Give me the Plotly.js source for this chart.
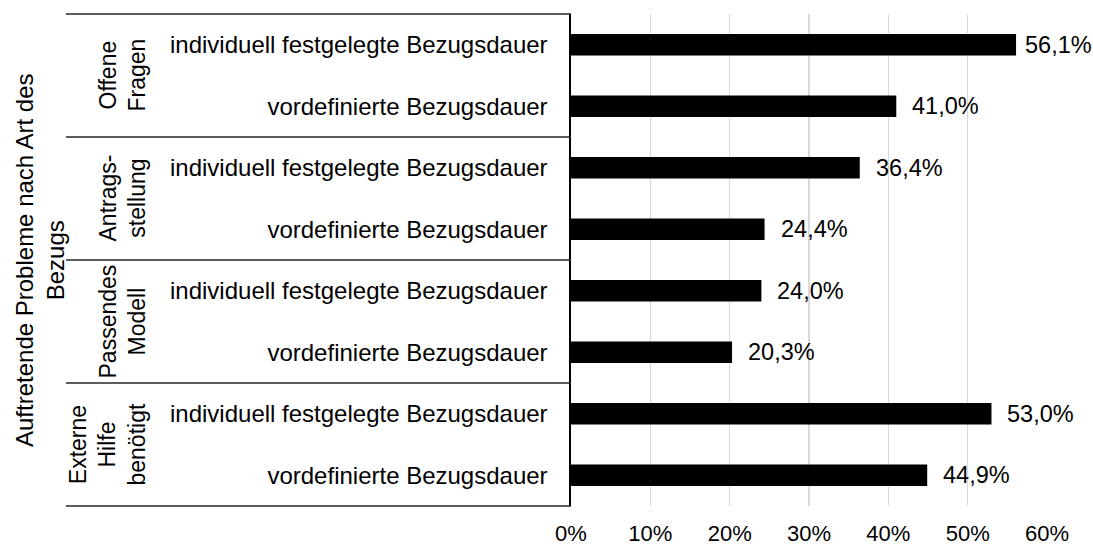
<!DOCTYPE html>
<html>
<head>
<meta charset="utf-8">
<script src="https://cdn.plot.ly/plotly-3.0.1.min.js"></script>
<style>html,body{margin:0;padding:0;background:#fff;}#chart{width:1093px;height:545px;}</style>
</head>
<body>
<div id="chart"></div>
<script>
// ---- data ----
const groups = ['Offene<br>Fragen', 'Antrags-<br>stellung', 'Passendes<br>Modell', 'Externe<br>Hilfe<br>benötigt'];
const subcats = ['individuell festgelegte Bezugsdauer', 'vordefinierte Bezugsdauer'];
const individuell = [0.561, 0.364, 0.240, 0.530];
const vordefiniert = [0.410, 0.244, 0.203, 0.449];
const axisTitle = 'Auftretende Probleme nach Art des<br>Bezugs';
const xTickVals = [0, 0.1, 0.2, 0.3, 0.4, 0.5, 0.6];

// ---- layout constants ----
const W = 1093, H = 545;
const M = {l: 571, r: 46, t: 14, b: 39};
const plotW = W - M.l - M.r;
const XMAX = 0.6;
const FONT = '"Liberation Sans", Arial, sans-serif';
const px2paper = px => (px - M.l) / plotW;

// rows
const labels = [], values = [], pos = [];
groups.forEach((g, gi) => {
  const vals = [individuell[gi], vordefiniert[gi]];
  subcats.forEach((s, si) => {
    labels.push(s);
    values.push(vals[si]);
    pos.push(gi * subcats.length + si);
  });
});
const nRows = labels.length;
const fmt = v => (v * 100).toFixed(1).replace('.', ',') + '%';

const trace = {
  type: 'bar',
  orientation: 'h',
  x: values,
  y: pos,
  width: 0.35,
  marker: {color: '#000000', line: {width: 0}},
  hoverinfo: 'skip'
};

const shapes = [];
const lineColor = '#262626';
for (let k = 0; k <= groups.length; k++) {
  const yp = 1 - (k * subcats.length) / nRows;
  shapes.push({
    type: 'line', xref: 'paper', yref: 'paper',
    x0: px2paper(66), x1: 0, y0: yp, y1: yp,
    line: {color: lineColor, width: 1.6}
  });
}

const annotations = [];
const LABEL_W = 67; // approx. width of a value label
values.forEach((v, i) => {
  const endPx = M.l + v / XMAX * plotW;
  const shift = Math.min(14, W - 3 - endPx - LABEL_W);
  annotations.push({
    x: v, y: pos[i], xref: 'x', yref: 'y',
    text: fmt(v), showarrow: false, xanchor: 'left', yanchor: 'middle',
    xshift: shift, font: {family: FONT, size: 23.5, color: '#000'}
  });
});
groups.forEach((g, gi) => {
  annotations.push({
    x: px2paper(152), y: gi * subcats.length + (subcats.length - 1) / 2,
    xref: 'paper', yref: 'y', text: g, showarrow: false,
    xanchor: 'right', yanchor: 'middle', textangle: -90, align: 'center',
    font: {family: FONT, size: 23, color: '#000'}
  });
});
annotations.push({
  x: px2paper(40), y: 0.5, xref: 'paper', yref: 'paper',
  text: axisTitle, showarrow: false, xanchor: 'center', yanchor: 'middle',
  textangle: -90, align: 'center',
  font: {family: FONT, size: 24, color: '#000'}
});

const layout = {
  width: W, height: H,
  margin: M,
  paper_bgcolor: '#fff', plot_bgcolor: '#fff',
  showlegend: false,
  font: {family: FONT, size: 22, color: '#000'},
  xaxis: {
    range: [0, XMAX], tickvals: xTickVals, tickformat: '.0%',
    showgrid: true, gridcolor: '#d9d9d9', gridwidth: 1.5,
    zeroline: false, showline: false, ticks: '',
    ticklabelstandoff: 12,
    tickfont: {family: FONT, size: 22, color: '#000'},
    fixedrange: true
  },
  yaxis: {
    range: [nRows - 0.5, -0.5],
    tickvals: pos, ticktext: labels,
    showgrid: false, zeroline: false,
    showline: true, linecolor: '#000', linewidth: 1.6,
    ticks: '', ticklabelstandoff: 17,
    tickfont: {family: FONT, size: 24, color: '#000'},
    fixedrange: true
  },
  shapes: shapes,
  annotations: annotations
};

Plotly.newPlot('chart', [trace], layout, {displayModeBar: false, staticPlot: true});
</script>
</body>
</html>
